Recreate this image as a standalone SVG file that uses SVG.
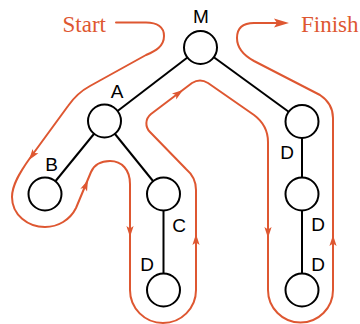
<svg xmlns="http://www.w3.org/2000/svg" width="360" height="324" viewBox="0 0 360 324">
<style>
.edge{stroke:#000;stroke-width:2;fill:none}
.node{fill:#fff;stroke:#000;stroke-width:2}
.lbl{font-family:"Liberation Sans",Arial,sans-serif;font-size:19px;fill:#000;text-anchor:middle}
.tour{fill:none;stroke:#DE5731;stroke-width:2;stroke-linejoin:round;stroke-linecap:round}
.word{font-family:"Liberation Serif","Times New Roman",serif;font-size:23px;fill:#DE5731}
.ah{fill:#DE5731}
</style>
<defs>
<polygon id="arr" points="0,0 -11,-3.6 -8.5,0 -11,3.6"/>
<polygon id="arrEnd" points="0,0 -15,-4.5 -12,0 -15,4.5"/>
</defs>
<g id="connectors">
<line class="edge" x1="200.5" y1="47.5" x2="104.5" y2="121"/>
<line class="edge" x1="200.5" y1="47.5" x2="302" y2="121.5"/>
<line class="edge" x1="104.5" y1="121" x2="45" y2="194"/>
<line class="edge" x1="104.5" y1="121" x2="163.5" y2="194"/>
<line class="edge" x1="163.5" y1="194" x2="163.5" y2="290"/>
<line class="edge" x1="302" y1="121.5" x2="302" y2="194"/>
<line class="edge" x1="302" y1="194" x2="302" y2="290"/>
</g>
<g id="node-M"><circle class="node" cx="200.5" cy="47.5" r="16.5"/><text class="lbl" x="201" y="23">M</text></g>
<g id="node-A"><circle class="node" cx="104.5" cy="121" r="16.5"/><text class="lbl" x="117" y="98">A</text></g>
<g id="node-B"><circle class="node" cx="45" cy="194" r="16.5"/><text class="lbl" x="51.5" y="171">B</text></g>
<g id="node-C"><circle class="node" cx="163.5" cy="194" r="16.5"/><text class="lbl" x="179" y="232">C</text></g>
<g id="node-D1"><circle class="node" cx="163.5" cy="290" r="16.5"/><text class="lbl" x="147" y="271">D</text></g>
<g id="node-D2"><circle class="node" cx="302" cy="121.5" r="16.5"/><text class="lbl" x="287" y="159">D</text></g>
<g id="node-D3"><circle class="node" cx="302" cy="194" r="16.5"/><text class="lbl" x="318" y="231">D</text></g>
<g id="node-D4"><circle class="node" cx="302" cy="290" r="16.5"/><text class="lbl" x="318" y="271">D</text></g>
<g id="tour">
<text class="word" x="62.5" y="32">Start</text>
<text class="word" x="301" y="32">Finish</text>
<path class="tour" d="M116,22.5 H146 C157,22.5 164,27 164,36 C164,46 156,51 146,55 L90,86 Q77,93 68,106 L30,158 C20,172 12,185 12,197 C12,215 28,227 45,227 C58,227 70,220 76,208 L91,172 C95,163 103,161 110,161 C122,161 130,170 130,184 V290 A33,33 0 0 0 196,290 V190 C196,180 192,174 186,169 L150,132 C145,127 145,119 151,114 L192,83 C197,80 203,80 208,83 L254,115 C262,121 268,130 268,142 V290 A32.5,32.5 0 0 0 333,290 V118 C333,108 329,101 320,95 L254,61 C243,55 237,48 237,38 C237,28 243,23 254,23 H280"/>
<use href="#arr" class="ah" transform="translate(29,160) rotate(126)"/>
<use href="#arr" class="ah" transform="translate(88,180) rotate(-67)"/>
<use href="#arr" class="ah" transform="translate(130,237) rotate(90)"/>
<use href="#arr" class="ah" transform="translate(196,234) rotate(-90)"/>
<use href="#arr" class="ah" transform="translate(183,90) rotate(-36)"/>
<use href="#arr" class="ah" transform="translate(268,238) rotate(90)"/>
<use href="#arr" class="ah" transform="translate(333,235) rotate(-90)"/>
<use href="#arrEnd" class="ah" transform="translate(289,23)"/>
</g>
</svg>
